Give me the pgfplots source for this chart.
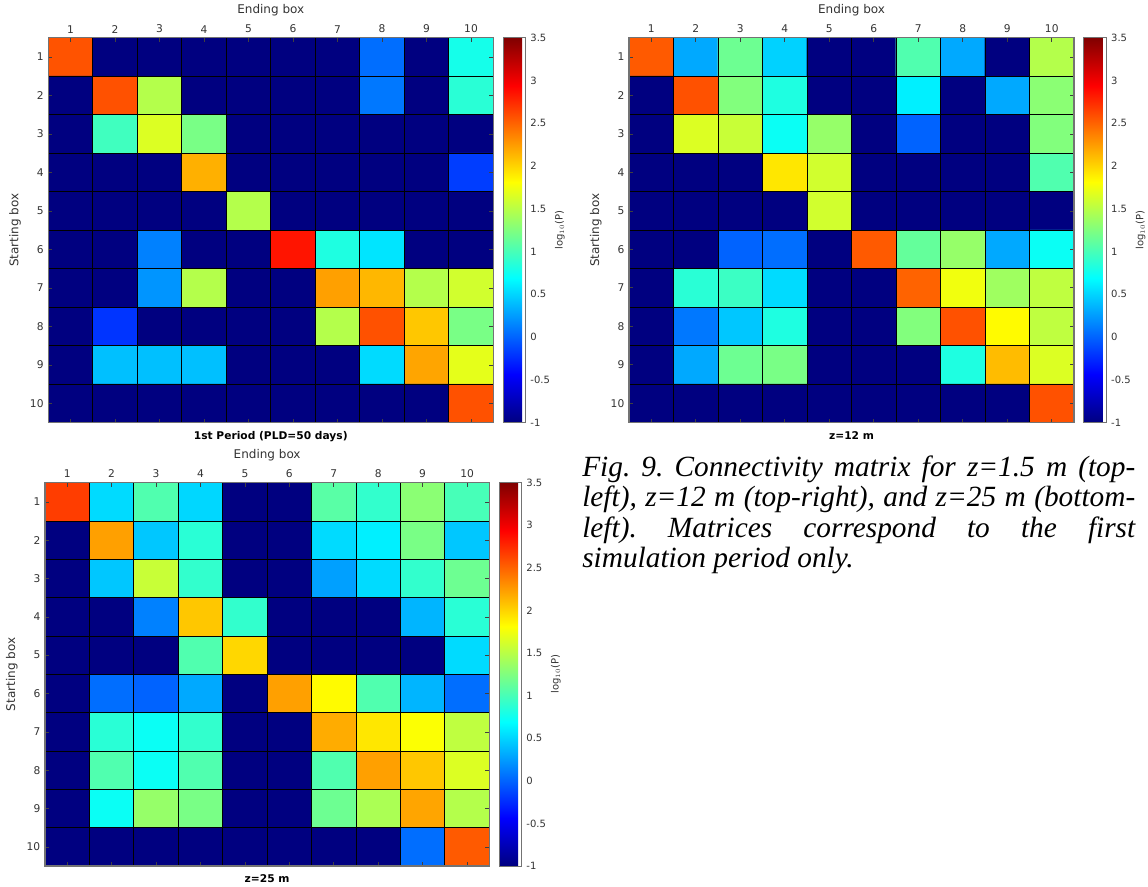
\documentclass[border=0pt]{standalone}
\usepackage{pgfplots}
\pgfplotsset{compat=1.18}
\usepackage{fontspec}
\setmainfont{DejaVu Sans}
\newfontfamily\capfont{Liberation Serif}
\definecolor{tickgray}{gray}{0.2}
\definecolor{framegray}{gray}{0.45}
\pgfplotsset{
  /pgf/number format/assume math mode=true,
  cmat/.style={
    scale only axis,
    width=333.75pt, height=288.7pt,
    xmin=0.5, xmax=10.5, ymin=0.5, ymax=10.5,
    enlargelimits=false,
    y dir=reverse,
    axis on top,
    xtick={1,...,10}, ytick={1,...,10},
    xticklabel pos=upper,
    yticklabel pos=left,
    tick align=inside,
    major tick length=3pt,
    tick style={black!75, line width=0.5pt},
    minor xtick={1.5,2.5,...,9.5},
    minor ytick={1.5,2.5,...,9.5},
    minor tick length=0pt,
    xminorgrids, yminorgrids,
    minor grid style={black, line width=0.7pt},
    axis line style={framegray, line width=0.8pt},
    ticklabel style={font=\fontsize{8}{9}\selectfont, text=tickgray},
    label style={font=\fontsize{9}{11}\selectfont, text=tickgray},
    xlabel={Ending box}, ylabel={Starting box},
    colormap/jet,
    point meta min=-1, point meta max=3.5,
    colorbar,
    colorbar style={
      at={(parent axis.north east)}, anchor=north west, xshift=-1.2pt,
      width=17pt, scale only axis,
      ytick={-1,-0.5,...,3.5},
      major tick length=0pt,
      axis line style={framegray, line width=0.6pt},
      yticklabel style={font=\fontsize{7.5}{8.5}\selectfont, text=tickgray},
      ylabel={log$_{10}$(P)},
      ylabel shift=-3pt,
      ylabel style={font=\fontsize{7.5}{8.5}\selectfont, text=tickgray},
    },
    title style={at={(0.5,0)}, anchor=north, yshift=-9pt,
      font=\bfseries\fontsize{8}{9.6}\selectfont, text=black},
  }
}
\begin{document}
\begin{tikzpicture}
\path[use as bounding box] (0,0) rectangle (861pt,-664.5pt);

% Panel 1: z = 1.5 m
\begin{axis}[cmat, at={(36.2pt,-317pt)}, anchor=south west,
  title={1st Period (PLD=50 days)}]
\addplot[matrix plot*, point meta=explicit, mesh/cols=10] coordinates {
(1,1)[2.57] (2,1)[-1] (3,1)[-1] (4,1)[-1] (5,1)[-1] (6,1)[-1] (7,1)[-1] (8,1)[0.05] (9,1)[-1] (10,1)[0.78]
(1,2)[-1] (2,2)[2.58] (3,2)[1.48] (4,2)[-1] (5,2)[-1] (6,2)[-1] (7,2)[-1] (8,2)[0.09] (9,2)[-1] (10,2)[0.87]
(1,3)[-1] (2,3)[0.97] (3,3)[1.66] (4,3)[1.22] (5,3)[-1] (6,3)[-1] (7,3)[-1] (8,3)[-1] (9,3)[-1] (10,3)[-1]
(1,4)[-1] (2,4)[-1] (3,4)[-1] (4,4)[2.16] (5,4)[-1] (6,4)[-1] (7,4)[-1] (8,4)[-1] (9,4)[-1] (10,4)[-0.17]
(1,5)[-1] (2,5)[-1] (3,5)[-1] (4,5)[-1] (5,5)[1.48] (6,5)[-1] (7,5)[-1] (8,5)[-1] (9,5)[-1] (10,5)[-1]
(1,6)[-1] (2,6)[-1] (3,6)[0.13] (4,6)[-1] (5,6)[-1] (6,6)[2.85] (7,6)[0.82] (8,6)[0.575] (9,6)[-1] (10,6)[-1]
(1,7)[-1] (2,7)[-1] (3,7)[0.22] (4,7)[1.48] (5,7)[-1] (6,7)[-1] (7,7)[2.23] (8,7)[2.13] (9,7)[1.48] (10,7)[1.61]
(1,8)[-1] (2,8)[-0.21] (3,8)[-1] (4,8)[-1] (5,8)[-1] (6,8)[-1] (7,8)[1.48] (8,8)[2.58] (9,8)[2.06] (10,8)[1.22]
(1,9)[-1] (2,9)[0.41] (3,9)[0.41] (4,9)[0.41] (5,9)[-1] (6,9)[-1] (7,9)[-1] (8,9)[0.53] (9,9)[2.21] (10,9)[1.70]
(1,10)[-1] (2,10)[-1] (3,10)[-1] (4,10)[-1] (5,10)[-1] (6,10)[-1] (7,10)[-1] (8,10)[-1] (9,10)[-1] (10,10)[2.58]
};
\end{axis}

% Panel 2: z = 12 m
\begin{axis}[cmat, at={(471.75pt,-316.9pt)}, anchor=south west,
  title={z=12 m}]
\addplot[matrix plot*, point meta=explicit, mesh/cols=10] coordinates {
(1,1)[2.54] (2,1)[0.31] (3,1)[1.17] (4,1)[0.49] (5,1)[-1] (6,1)[-1] (7,1)[1.04] (8,1)[0.31] (9,1)[-1] (10,1)[1.48]
(1,2)[-1] (2,2)[2.58] (3,2)[1.26] (4,2)[0.82] (5,2)[-1] (6,2)[-1] (7,2)[0.62] (8,2)[-1] (9,2)[0.31] (10,2)[1.30]
(1,3)[-1] (2,3)[1.66] (3,3)[1.57] (4,3)[0.73] (5,3)[1.35] (6,3)[-1] (7,3)[0.0] (8,3)[-1] (9,3)[-1] (10,3)[1.26]
(1,4)[-1] (2,4)[-1] (3,4)[-1] (4,4)[1.92] (5,4)[1.61] (6,4)[-1] (7,4)[-1] (8,4)[-1] (9,4)[-1] (10,4)[1.04]
(1,5)[-1] (2,5)[-1] (3,5)[-1] (4,5)[-1] (5,5)[1.61] (6,5)[-1] (7,5)[-1] (8,5)[-1] (9,5)[-1] (10,5)[-1]
(1,6)[-1] (2,6)[-1] (3,6)[0.0] (4,6)[0.05] (5,6)[-1] (6,6)[2.54] (7,6)[1.13] (8,6)[1.35] (9,6)[0.31] (10,6)[0.73]
(1,7)[-1] (2,7)[0.87] (3,7)[0.95] (4,7)[0.53] (5,7)[-1] (6,7)[-1] (7,7)[2.50] (8,7)[1.75] (9,7)[1.39] (10,7)[1.53]
(1,8)[-1] (2,8)[0.09] (3,8)[0.44] (4,8)[0.82] (5,8)[-1] (6,8)[-1] (7,8)[1.26] (8,8)[2.58] (9,8)[1.83] (10,8)[1.53]
(1,9)[-1] (2,9)[0.31] (3,9)[1.17] (4,9)[1.22] (5,9)[-1] (6,9)[-1] (7,9)[-1] (8,9)[0.82] (9,9)[2.11] (10,9)[1.66]
(1,10)[-1] (2,10)[-1] (3,10)[-1] (4,10)[-1] (5,10)[-1] (6,10)[-1] (7,10)[-1] (8,10)[-1] (9,10)[-1] (10,10)[2.58]
};
\end{axis}

% Panel 3: z = 25 m
\begin{axis}[cmat, at={(33.75pt,-649.5pt)}, anchor=south west,
  width=333.2pt, height=287.5pt, title={z=25 m}]
\addplot[matrix plot*, point meta=explicit, mesh/cols=10] coordinates {
(1,1)[2.67] (2,1)[0.53] (3,1)[1.04] (4,1)[0.51] (5,1)[-1] (6,1)[-1] (7,1)[1.08] (8,1)[0.91] (9,1)[1.30] (10,1)[1.00]
(1,2)[-1] (2,2)[2.23] (3,2)[0.44] (4,2)[0.87] (5,2)[-1] (6,2)[-1] (7,2)[0.53] (8,2)[0.62] (9,2)[1.22] (10,2)[0.44]
(1,3)[-1] (2,3)[0.44] (3,3)[1.57] (4,3)[0.91] (5,3)[-1] (6,3)[-1] (7,3)[0.27] (8,3)[0.53] (9,3)[0.91] (10,3)[1.17]
(1,4)[-1] (2,4)[-1] (3,4)[0.13] (4,4)[2.06] (5,4)[0.91] (6,4)[-1] (7,4)[-1] (8,4)[-1] (9,4)[0.36] (10,4)[0.87]
(1,5)[-1] (2,5)[-1] (3,5)[-1] (4,5)[1.04] (5,5)[1.99] (6,5)[-1] (7,5)[-1] (8,5)[-1] (9,5)[-1] (10,5)[0.53]
(1,6)[-1] (2,6)[0.05] (3,6)[0.0] (4,6)[0.31] (5,6)[-1] (6,6)[2.23] (7,6)[1.83] (8,6)[1.04] (9,6)[0.36] (10,6)[0.05]
(1,7)[-1] (2,7)[0.87] (3,7)[0.73] (4,7)[0.91] (5,7)[-1] (6,7)[-1] (7,7)[2.18] (8,7)[1.92] (9,7)[1.80] (10,7)[1.53]
(1,8)[-1] (2,8)[1.04] (3,8)[0.73] (4,8)[1.04] (5,8)[-1] (6,8)[-1] (7,8)[1.04] (8,8)[2.23] (9,8)[2.06] (10,8)[1.66]
(1,9)[-1] (2,9)[0.73] (3,9)[1.35] (4,9)[1.22] (5,9)[-1] (6,9)[-1] (7,9)[1.17] (8,9)[1.44] (9,9)[2.21] (10,9)[1.48]
(1,10)[-1] (2,10)[-1] (3,10)[-1] (4,10)[-1] (5,10)[-1] (6,10)[-1] (7,10)[-1] (8,10)[-1] (9,10)[0.05] (10,10)[2.54]
};
\end{axis}

% Caption
\node[anchor=base west, inner sep=0pt, text width=414.75pt, align=justify]
  at (436.5pt,-357pt)
  {\capfont\itshape\fontsize{22}{22.9}\selectfont\frenchspacing\hyphenpenalty=10000\exhyphenpenalty=10000\tolerance=10000\hbadness=10000
   Fig. 9. Connectivity matrix for z=1.5 m (top-\linebreak left), z=12 m (top-right), and z=25 m (bottom-\linebreak left). Matrices correspond to the first\linebreak simulation period only.\par};
\end{tikzpicture}
\end{document}
